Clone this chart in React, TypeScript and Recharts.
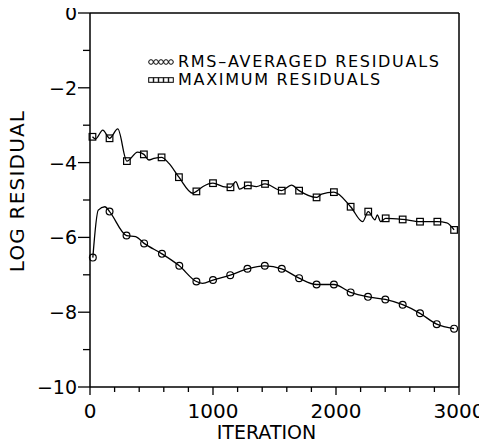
import React from "react";
import { LineChart, Line, XAxis, YAxis, ReferenceLine, Legend } from "recharts";

// RMS-averaged residuals (log10) vs iteration
const rmsIter = [23, 67, 121, 159, 297, 371, 440, 585, 726, 865, 915, 1000, 1140, 1280, 1421, 1559, 1700, 1842, 1983, 2119, 2260, 2401, 2542, 2683, 2819, 2960];
const rmsLog = [-6.54, -5.27, -5.18, -5.31, -5.95, -5.98, -6.16, -6.44, -6.76, -7.18, -7.23, -7.14, -7.01, -6.84, -6.76, -6.84, -7.09, -7.26, -7.26, -7.47, -7.59, -7.66, -7.8, -8.03, -8.32, -8.44];
const rmsMark = [1, 0, 0, 1, 1, 0, 1, 1, 1, 1, 0, 1, 1, 1, 1, 1, 1, 1, 1, 1, 1, 1, 1, 1, 1, 1];

// maximum residuals (log10) vs iteration
const maxIter = [20, 45, 104, 159, 226, 300, 387, 438, 479, 520, 582, 642, 723, 837, 865, 919, 1000, 1081, 1142, 1185, 1217, 1283, 1353, 1423, 1559, 1638, 1700, 1842, 1883, 1983, 2119, 2217, 2262, 2317, 2336, 2363, 2404, 2542, 2683, 2824, 2901, 2960];
const maxLog = [-3.31, -3.37, -3.13, -3.35, -3.1, -3.96, -3.72, -3.78, -3.93, -3.89, -3.86, -4.02, -4.39, -4.82, -4.77, -4.64, -4.55, -4.64, -4.66, -4.51, -4.71, -4.61, -4.64, -4.57, -4.75, -4.6, -4.75, -4.93, -4.84, -4.79, -5.18, -5.58, -5.31, -5.53, -5.4, -5.58, -5.49, -5.52, -5.58, -5.58, -5.61, -5.8];
const maxMark = [1, 0, 0, 1, 0, 1, 0, 1, 0, 0, 1, 0, 1, 0, 1, 0, 1, 0, 1, 0, 0, 1, 0, 1, 1, 0, 1, 1, 0, 1, 1, 0, 1, 0, 0, 0, 1, 1, 1, 1, 0, 1];

const xTicks = [0, 200, 400, 600, 800, 1000, 1200, 1400, 1600, 1800, 2000, 2200, 2400, 2600, 2800, 3000];
const yTicks = [-10, -9, -8, -7, -6, -5, -4, -3, -2, -1, 0];

const rmsData = rmsIter.map((it, i) => ({ it, v: rmsLog[i], m: rmsMark[i] }));
const maxData = maxIter.map((it, i) => ({ it, v: maxLog[i], m: maxMark[i] }));

const FONT = "'DejaVu Sans', sans-serif";

const fmt = (v: number) => (v === 0 ? "0" : "\u2212" + Math.abs(v));

const YTick = (props: any) => {
  const { x, y, payload } = props;
  const major = payload.value % 2 === 0;
  return (
    <g>
      <line x1={x - (major ? 12 : 7)} x2={x} y1={y} y2={y} stroke="#000" strokeWidth={1.3} />
      {major && (
        <text x={x - 13} y={y} dy={7} textAnchor="end" fontSize={19} fontFamily={FONT} fill="#000">
          {fmt(payload.value)}
        </text>
      )}
    </g>
  );
};

const XTick = (props: any) => {
  const { x, y, payload } = props;
  const major = payload.value % 1000 === 0;
  return (
    <g>
      <line x1={x} x2={x} y1={y} y2={y + (major ? 8 : 5)} stroke="#000" strokeWidth={1.3} />
      {major && (
        <text x={x} y={y} dy={31} textAnchor="middle" fontSize={20} fontFamily={FONT} fill="#000">
          {payload.value}
        </text>
      )}
    </g>
  );
};

const marker = (shape: "circle" | "square") => (p: any) => {
  const { cx, cy, payload, index } = p;
  if (!payload.m || cx == null) return <g key={index} />;
  if (shape === "circle")
    return <circle key={index} cx={cx} cy={cy} r={3.4} fill="none" stroke="#000" strokeWidth={1.2} />;
  return <rect key={index} x={cx - 3.3} y={cy - 3.3} width={6.6} height={6.6} fill="none" stroke="#000" strokeWidth={1.2} />;
};

const LegendIcon = ({ shape }: { shape: string }) => (
  <svg width={26} height={10} style={{ marginRight: 4 }}>
    <line x1={1} x2={25} y1={5} y2={5} stroke="#000" strokeWidth={1} />
    {[3, 8, 13, 18, 23].map((cx) =>
      shape === "circle" ? (
        <circle key={cx} cx={cx} cy={5} r={2.3} fill="#fff" stroke="#000" strokeWidth={1} />
      ) : (
        <rect key={cx} x={cx - 2.3} y={2.7} width={4.6} height={4.6} fill="#fff" stroke="#000" strokeWidth={1} />
      )
    )}
  </svg>
);

const legendRows = [
  { shape: "circle", label: "RMS\u2013AVERAGED RESIDUALS" },
  { shape: "square", label: "MAXIMUM RESIDUALS" },
];

const LegendBox = () => (
  <div style={{ fontFamily: FONT, fontSize: 16, letterSpacing: 1.7, color: "#000", whiteSpace: "nowrap" }}>
    {legendRows.map((r) => (
      <div key={r.label} style={{ display: "flex", alignItems: "center", height: 18, lineHeight: "18px" }}>
        <LegendIcon shape={r.shape} />
        <span>{r.label}</span>
      </div>
    ))}
  </div>
);

export default function App() {
  return (
    <div style={{ width: 479, height: 437, background: "#fff" }}>
      <style>{`.recharts-surface{overflow:visible}`}</style>
      <LineChart width={479} height={437} margin={{ top: 5, right: 28, bottom: 8, left: 2 }}>
        <XAxis
          dataKey="it"
          type="number"
          domain={[0, 3000]}
          ticks={xTicks}
          interval={0}
          tickSize={0}
          tickMargin={0}
          tick={<XTick />}
          height={50}
          stroke="#000"
          strokeWidth={1.5}
          label={{
            content: (p: any) => {
              const vb = p.viewBox;
              return (
                <text x={vb.x + vb.width / 2 - 8} y={vb.y + 52} textAnchor="middle" fontSize={19} fontFamily={FONT} fill="#000">
                  ITERATION
                </text>
              );
            },
          }}
        />
        <YAxis
          dataKey="v"
          type="number"
          domain={[-10, 0]}
          ticks={yTicks}
          interval={0}
          tickSize={0}
          tickMargin={0}
          tick={<YTick />}
          width={80}
          stroke="#000"
          strokeWidth={1.5}
          label={{
            content: (p: any) => {
              const vb = p.viewBox;
              const cx = vb.x + 7;
              const cy = vb.y + vb.height / 2 - 9;
              return (
                <text x={cx} y={cy} transform={`rotate(-90 ${cx} ${cy})`} dy={7} textAnchor="middle" fontSize={20} letterSpacing={1.2} fontFamily={FONT} fill="#000">
                  LOG RESIDUAL
                </text>
              );
            },
          }}
        />
        <ReferenceLine x={3000} stroke="#000" strokeWidth={1.5} />
        <ReferenceLine y={0} stroke="#000" strokeWidth={1.5} />
        <Legend
          layout="horizontal"
          verticalAlign="middle"
          align="center"
          content={<LegendBox />}
          wrapperStyle={{ position: "absolute", left: 140, top: 45, width: "auto" }}
        />
        <Line
          data={maxData}
          dataKey="v"
          type="monotone"
          stroke="#000"
          strokeWidth={1.3}
          dot={marker("square")}
          activeDot={false}
          isAnimationActive={false}
        />
        <Line
          data={rmsData}
          dataKey="v"
          type="monotone"
          stroke="#000"
          strokeWidth={1.3}
          dot={marker("circle")}
          activeDot={false}
          isAnimationActive={false}
        />
      </LineChart>
    </div>
  );
}
